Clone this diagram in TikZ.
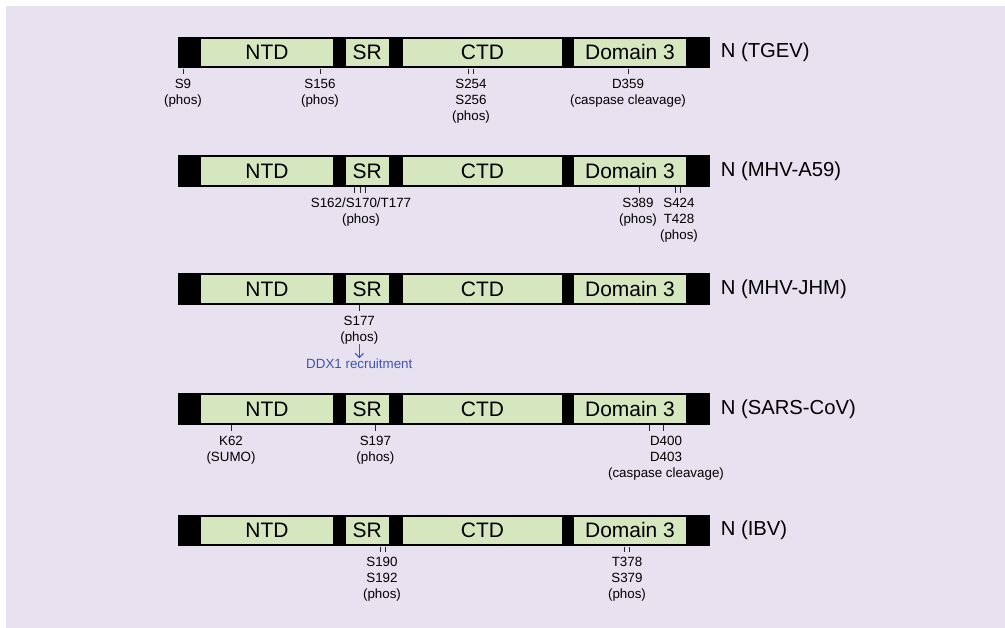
\documentclass[tikz,border=0pt]{standalone}
\usepackage{fontspec}
\setmainfont{Liberation Sans}
\usetikzlibrary{positioning,arrows.meta}
\definecolor{lavender}{RGB}{231,225,240}
\definecolor{domgreen}{RGB}{214,230,190}
\definecolor{ddxblue}{RGB}{62,84,178}
\tikzset{
  bar/.style={fill=black, minimum width=13.3cm, minimum height=0.79cm, inner sep=0},
  dom/.style={fill=domgreen, minimum height=0.69cm, inner sep=0, font=\fontsize{14.9}{16}\selectfont},
  ntd/.style={dom, minimum width=3.28cm},
  sr/.style={dom, minimum width=1.07cm},
  ctd/.style={dom, minimum width=3.96cm},
  dthree/.style={dom, minimum width=2.8cm},
  rowlabel/.style={inner sep=0, font=\fontsize{14.4}{16}\selectfont},
  sitetick/.style={line width=0.5pt, black!85},
  site/.style={align=center, inner sep=0, anchor=north, font=\fontsize{9.5}{11.4}\selectfont},
}

\begin{document}
\begin{tikzpicture}[x=0.025cm, y=-0.025cm]
\useasboundingbox (0,0) rectangle (1005,628);
\fill[white] (0,0) rectangle (1005,628);
\fill[lavender] (6,6) rectangle (1005,628);

% N (TGEV)
\node[bar] (bar1) at (443.8,52.5) {};
\node[ntd] (ntd1) at (267,52.5) {NTD};
\node[sr] (sr1) at (367.2,52.5) {SR};
\node[ctd] (ctd1) at (482.5,52.5) {CTD};
\node[dthree] (dom1) at (630,52.5) {Domain 3};
\node[rowlabel, right=0.26cm of bar1] (lab1) {N (TGEV)};
\draw[sitetick] (183,0 |- bar1.south) -- ++(0,5.5);
\draw[sitetick] (320,0 |- bar1.south) -- ++(0,5.5);
\draw[sitetick] (468.6,0 |- bar1.south) -- ++(0,5.5);
\draw[sitetick] (472.9,0 |- bar1.south) -- ++(0,5.5);
\draw[sitetick] (628.2,0 |- bar1.south) -- ++(0,5.5);
\node[site] (s9) at (183,79) {S9\\(phos)};
\node[site] (s156) at (320,79) {S156\\(phos)};
\node[site] (s254) at (471,79) {S254\\S256\\(phos)};
\node[site] (d359) at (628,79) {D359\\(caspase cleavage)};

% N (MHV-A59)
\node[bar] (bar2) at (443.8,171) {};
\node[ntd] (ntd2) at (267,171) {NTD};
\node[sr] (sr2) at (367.2,171) {SR};
\node[ctd] (ctd2) at (482.5,171) {CTD};
\node[dthree] (dom2) at (630,171) {Domain 3};
\node[rowlabel, right=0.26cm of bar2] (lab2) {N (MHV-A59)};
\draw[sitetick] (354.3,0 |- bar2.south) -- ++(0,5.5);
\draw[sitetick] (360,0 |- bar2.south) -- ++(0,5.5);
\draw[sitetick] (365.7,0 |- bar2.south) -- ++(0,5.5);
\draw[sitetick] (639.6,0 |- bar2.south) -- ++(0,5.5);
\draw[sitetick] (675.4,0 |- bar2.south) -- ++(0,5.5);
\draw[sitetick] (680.7,0 |- bar2.south) -- ++(0,5.5);
\node[site] (s162) at (361,197.5) {S162/S170/T177\\(phos)};
\node[site] (s389) at (638,197.5) {S389\\(phos)};
\node[site] (s424) at (679,197.5) {S424\\T428\\(phos)};

% N (MHV-JHM)
\node[bar] (bar3) at (443.8,289) {};
\node[ntd] (ntd3) at (267,289) {NTD};
\node[sr] (sr3) at (367.2,289) {SR};
\node[ctd] (ctd3) at (482.5,289) {CTD};
\node[dthree] (dom3) at (630,289) {Domain 3};
\node[rowlabel, right=0.26cm of bar3] (lab3) {N (MHV-JHM)};
\draw[sitetick] (359.3,0 |- bar3.south) -- ++(0,5.5);
\node[site] (s177) at (359.3,315.5) {S177\\(phos)};
\node[site, text=ddxblue, below=0.35cm of s177] (ddx) {DDX1 recruitment};
\draw[-{Straight Barb[length=3pt,width=6pt]}, ddxblue, line width=0.7pt] (s177) -- (ddx);

% N (SARS-CoV)
\node[bar] (bar4) at (443.8,409) {};
\node[ntd] (ntd4) at (267,409) {NTD};
\node[sr] (sr4) at (367.2,409) {SR};
\node[ctd] (ctd4) at (482.5,409) {CTD};
\node[dthree] (dom4) at (630,409) {Domain 3};
\node[rowlabel, right=0.26cm of bar4] (lab4) {N (SARS-CoV)};
\draw[sitetick] (231.4,0 |- bar4.south) -- ++(0,5.5);
\draw[sitetick] (375.4,0 |- bar4.south) -- ++(0,5.5);
\draw[sitetick] (649.6,0 |- bar4.south) -- ++(0,5.5);
\draw[sitetick] (663.2,0 |- bar4.south) -- ++(0,5.5);
\node[site] (k62) at (231,435.5) {K62\\(SUMO)};
\node[site] (s197) at (375.4,435.5) {S197\\(phos)};
\node[site] (d400) at (666,435.5) {D400\\D403\\(caspase cleavage)};

% N (IBV)
\node[bar] (bar5) at (443.8,530.5) {};
\node[ntd] (ntd5) at (267,530.5) {NTD};
\node[sr] (sr5) at (367.2,530.5) {SR};
\node[ctd] (ctd5) at (482.5,530.5) {CTD};
\node[dthree] (dom5) at (630,530.5) {Domain 3};
\node[rowlabel, right=0.26cm of bar5] (lab5) {N (IBV)};
\draw[sitetick] (380.7,0 |- bar5.south) -- ++(0,5.5);
\draw[sitetick] (385,0 |- bar5.south) -- ++(0,5.5);
\draw[sitetick] (624.6,0 |- bar5.south) -- ++(0,5.5);
\draw[sitetick] (628.9,0 |- bar5.south) -- ++(0,5.5);
\node[site] (s190) at (382,557) {S190\\S192\\(phos)};
\node[site] (t378) at (627,557) {T378\\S379\\(phos)};
\end{tikzpicture}
\end{document}
